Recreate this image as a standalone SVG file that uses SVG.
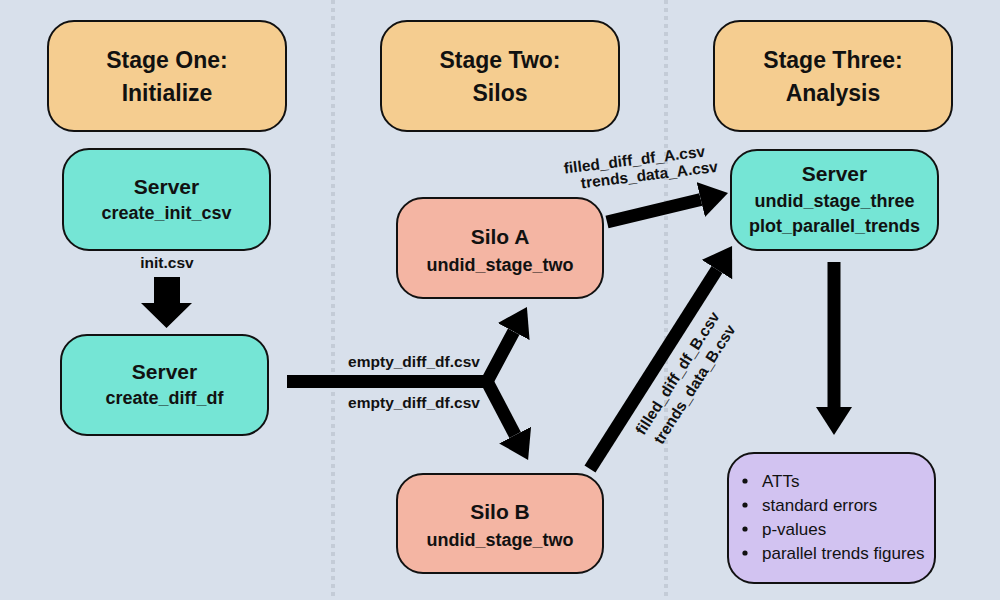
<svg xmlns="http://www.w3.org/2000/svg" width="1000" height="600" viewBox="0 0 1000 600">
<defs>
<style>
.box{stroke:#111;stroke-width:2}
.stage{fill:#f5cd90}
.server{fill:#75e5d5}
.silo{fill:#f4b5a3}
.out{fill:#d2c3f1}
text{font-family:"Liberation Sans",Arial,sans-serif;fill:#111;text-anchor:middle}
.t1{font-size:23px;font-weight:bold}
.t2{font-size:21px;font-weight:bold}
.t3{font-size:18px;font-weight:bold}
.lbl{font-size:15.5px;font-weight:bold}
.li{font-size:17px;text-anchor:start}
.conn{fill:none;stroke:#000;stroke-width:13;stroke-linejoin:miter}
.div{stroke:#c4ccd7;stroke-width:4;stroke-dasharray:4 4}
</style>
<marker id="ah" markerUnits="userSpaceOnUse" markerWidth="28" markerHeight="36" refX="0" refY="18" orient="auto" viewBox="0 0 28 36">
<path d="M0,0 L28,18 L0,36 z" fill="#000"/>
</marker>
</defs>
<rect width="1000" height="600" fill="#d8e0eb"/>
<line class="div" x1="333" y1="0" x2="333" y2="600"/>
<line class="div" x1="666" y1="0" x2="666" y2="600"/>

<g id="stage1"><rect class="box stage" x="48" y="21" width="238" height="110" rx="26"/><text class="t1" x="167" y="68">Stage One:</text><text class="t1" x="167" y="101">Initialize</text></g>
<g id="stage2"><rect class="box stage" x="381" y="21" width="238" height="110" rx="26"/><text class="t1" x="500" y="68">Stage Two:</text><text class="t1" x="500" y="101">Silos</text></g>
<g id="stage3"><rect class="box stage" x="714" y="21" width="238" height="110" rx="26"/><text class="t1" x="833" y="68">Stage Three:</text><text class="t1" x="833" y="101">Analysis</text></g>

<g id="server-init"><rect class="box server" x="63" y="149" width="207" height="101" rx="26"/><text class="t2" x="166.5" y="194">Server</text><text class="t3" x="166.5" y="219">create_init_csv</text></g>
<g id="server-diff"><rect class="box server" x="61" y="335" width="207" height="100" rx="26"/><text class="t2" x="164.5" y="379">Server</text><text class="t3" x="164.5" y="404">create_diff_df</text></g>
<g id="silo-a"><rect class="box silo" x="397" y="198" width="206" height="100" rx="26"/><text class="t2" x="500" y="244">Silo A</text><text class="t3" x="500" y="271">undid_stage_two</text></g>
<g id="silo-b"><rect class="box silo" x="397" y="474" width="206" height="99" rx="26"/><text class="t2" x="500" y="519">Silo B</text><text class="t3" x="500" y="546">undid_stage_two</text></g>
<g id="server-three"><rect class="box server" x="731" y="150" width="207" height="100" rx="26"/><text class="t2" x="834.5" y="181">Server</text><text class="t3" x="834.5" y="207">undid_stage_three</text><text class="t3" x="834.5" y="232">plot_parallel_trends</text></g>
<g id="results"><rect class="box out" x="728" y="453" width="207" height="130" rx="26"/>
<circle cx="745" cy="481" r="2.6" fill="#111"/><text class="li" x="762" y="487">ATTs</text>
<circle cx="745" cy="505" r="2.6" fill="#111"/><text class="li" x="762" y="511">standard errors</text>
<circle cx="745" cy="529" r="2.6" fill="#111"/><text class="li" x="762" y="535">p-values</text>
<circle cx="745" cy="553" r="2.6" fill="#111"/><text class="li" x="762" y="559">parallel trends figures</text></g>

<g id="connectors">
<polygon points="154,277 180,277 180,303 192,303 166.5,328 141,303 154,303" fill="#000"/>
<text class="lbl" x="167" y="268">init.csv</text>
<path class="conn" d="M287,381.5 L487,381.5 L513.7,331.6" marker-end="url(#ah)"/>
<path class="conn" d="M487,381.5 L515.1,435.1" marker-end="url(#ah)"/>
<text class="lbl" x="414" y="367">empty_diff_df.csv</text>
<text class="lbl" x="414" y="408">empty_diff_df.csv</text>
<path class="conn" d="M607,222 L700.8,199.5" marker-end="url(#ah)"/>
<text class="lbl" transform="translate(635,165) rotate(-7)" x="0" y="0">filled_diff_df_A.csv</text>
<text class="lbl" transform="translate(650,180) rotate(-7)" x="0" y="0">trends_data_A.csv</text>
<path class="conn" d="M590,469 L717,269.6" marker-end="url(#ah)"/>
<text class="lbl" transform="translate(682,376) rotate(-57.5)" x="0" y="0">filled_diff_df_B.csv</text>
<text class="lbl" transform="translate(699,387) rotate(-57.5)" x="0" y="0">trends_data_B.csv</text>
<path class="conn" d="M834,262 L834,407" marker-end="url(#ah)"/>
</g>
</svg>
